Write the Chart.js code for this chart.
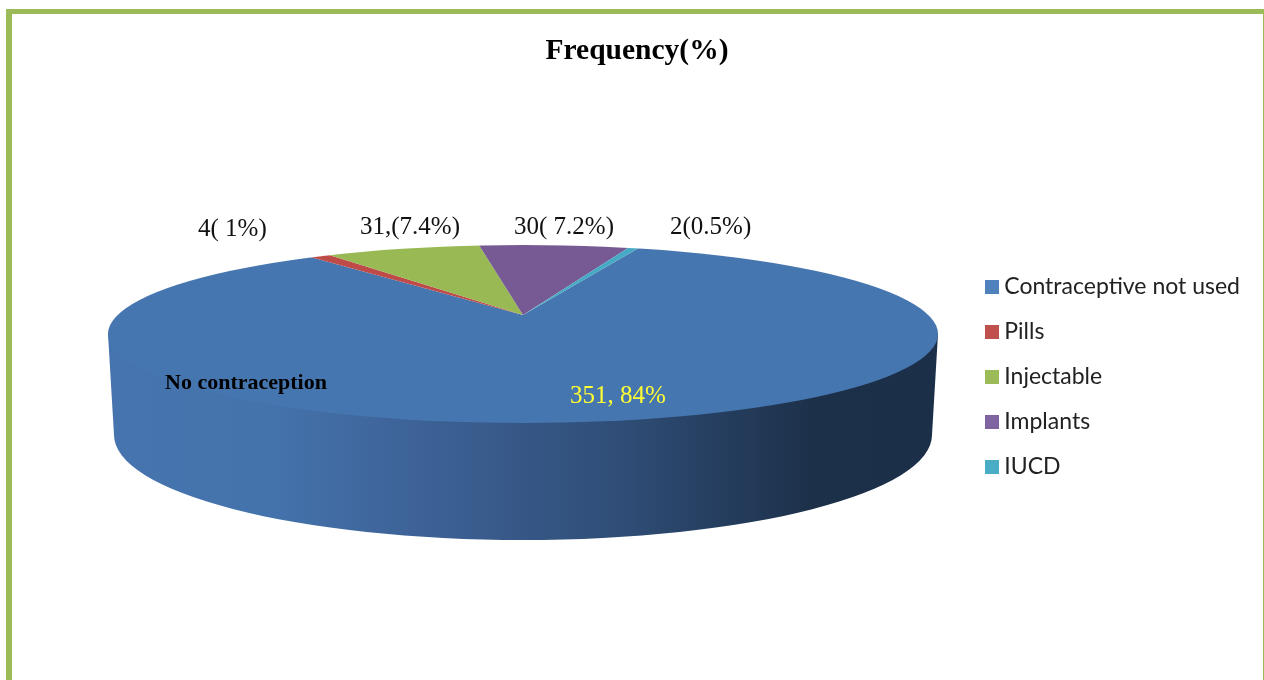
<!DOCTYPE html>
<html>
<head>
<meta charset="utf-8">
<title>Frequency(%)</title>
<script src="https://cdn.jsdelivr.net/npm/chart.js@4"></script>
<style>
  html, body { margin: 0; height: 100%; overflow: hidden; background: #fff; }
  #frame { position: absolute; left: 6px; top: 9px; width: 1251px; height: 700px; border: 5px solid #9bbb59; border-left-width: 6px; border-right-width: 1px; }
  #wrap { position: absolute; left: 0; top: 0; width: 1264px; height: 680px; }
</style>
</head>
<body>
<div id="frame"></div>
<div id="wrap"><canvas id="pie"></canvas></div>
<script>
const categories = ["Contraceptive not used", "Pills", "Injectable", "Implants", "IUCD"];
const frequency = [351, 4, 31, 30, 2];
const sliceColors = ["#4676af", "#be4b48", "#98b954", "#775a94", "#46aac4"];
const legendColors = ["#4f81bd", "#c0504d", "#9bbb59", "#8064a2", "#4bacc6"];
const sliceLabels = ["351, 84%", "4( 1%)", "31,(7.4%)", "30( 7.2%)", "2(0.5%)"];

// small square used as the legend marker, so the text sits close to it
function legendMarker(color) {
  const c = document.createElement("canvas");
  c.width = 14;
  c.height = 14;
  const g = c.getContext("2d");
  g.fillStyle = color;
  g.fillRect(0, 0, 14, 14);
  return c;
}

// Fake 3D: wall first, then the library's arcs squashed onto the tilted top
const tiltPlugin = {
  id: "tilt",
  afterLayout(chart) {
    // legend block sits lower than the middle of the page
    chart.legend.top += 62;
    chart.legend.bottom += 62;
  },
  beforeDatasetsDraw(chart) {
    const ctx = chart.ctx;
    const arc = chart.getDatasetMeta(0).data[0];

    const wall = ctx.createLinearGradient(108, 0, 938, 0);
    wall.addColorStop(0, "#4674ae");
    wall.addColorStop(0.2, "#4472ab");
    wall.addColorStop(0.4, "#3c6094");
    wall.addColorStop(0.62, "#2f4d76");
    wall.addColorStop(0.85, "#1c3049");
    wall.addColorStop(1, "#1b2f48");
    ctx.save();
    ctx.fillStyle = wall;
    ctx.beginPath();
    ctx.moveTo(108, 334);
    ctx.lineTo(114, 435);
    ctx.ellipse(523, 435, 409, 105, 0, Math.PI, 0, true);
    ctx.lineTo(938, 334);
    ctx.closePath();
    ctx.fill();
    ctx.restore();

    ctx.save();
    ctx.beginPath();
    ctx.ellipse(523, 334, 415, 89, 0, 0, Math.PI * 2);
    ctx.clip();
    ctx.translate(523, 315);
    ctx.scale(560 / arc.outerRadius, 118 / arc.outerRadius);
    ctx.translate(-arc.x, -arc.y);
  },
  afterDatasetsDraw(chart) {
    chart.ctx.restore();
  },
  afterDraw(chart) {
    const ctx = chart.ctx;
    ctx.save();
    ctx.textAlign = "left";
    ctx.textBaseline = "alphabetic";
    ctx.fillStyle = "#111";
    ctx.font = "25px 'Liberation Serif'";
    ctx.fillText(sliceLabels[1], 198, 236);
    ctx.fillText(sliceLabels[2], 360, 234);
    ctx.fillText(sliceLabels[3], 514, 234);
    ctx.fillText(sliceLabels[4], 670, 234);
    ctx.fillStyle = "#ffff33";
    ctx.fillText(sliceLabels[0], 570, 403);
    ctx.fillStyle = "#000";
    ctx.font = "bold 22px 'Liberation Serif'";
    ctx.fillText("No contraception", 165, 389);
    ctx.restore();
  },
};

new Chart(document.getElementById("pie"), {
  type: "pie",
  data: {
    labels: categories,
    datasets: [
      {
        data: frequency,
        backgroundColor: sliceColors,
        borderWidth: 0,
        radius: 150,
      },
    ],
  },
  options: {
    responsive: true,
    maintainAspectRatio: false,
    animation: false,
    rotation: 20,
    layout: { padding: { left: 24, right: 14, top: 0, bottom: 50 } },
    plugins: {
      tooltip: { enabled: false },
      title: {
        display: true,
        text: "Frequency(%)",
        color: "#000",
        font: { family: "'Liberation Serif'", size: 29.5, weight: "bold" },
        padding: { top: 34, bottom: 18 },
      },
      legend: {
        position: "right",
        labels: {
          color: "#222",
          font: { family: "Lato", size: 23 },
          padding: 22,
          usePointStyle: true,
          pointStyleWidth: 1,
          generateLabels: () =>
            categories.map((name, i) => ({
              text: name,
              fontColor: "#222",
              pointStyle: legendMarker(legendColors[i]),
              index: i,
            })),
        },
      },
    },
  },
  plugins: [tiltPlugin],
});
</script>
</body>
</html>
